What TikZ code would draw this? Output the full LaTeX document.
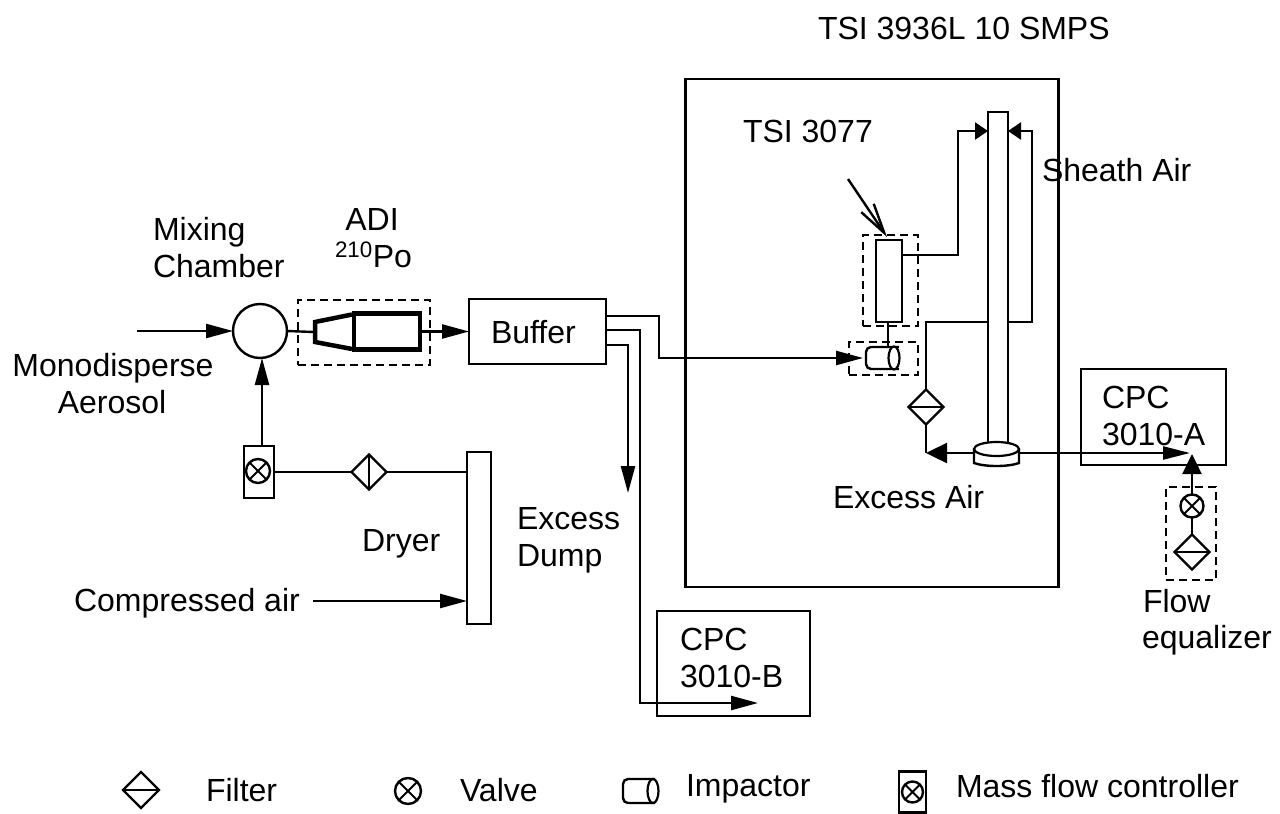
\documentclass[tikz,border=0pt]{standalone}
\usepackage{fontspec}
\setmainfont{Liberation Sans}
\usetikzlibrary{shapes.geometric,arrows.meta,calc}
\tikzset{
  pipe/.style={line width=2.4pt,line join=miter},
  flow/.style={pipe,-{Triangle[length=27pt,width=14pt]},shorten >=0pt},
  box/.style={draw,line width=2.4pt,inner sep=0pt,outer sep=0pt},
  heavy/.style={draw,line width=4.5pt,line join=miter},
  dashbox/.style={draw,line width=2.2pt,dash pattern=on 8pt off 5pt},
  filterh/.style={draw,diamond,aspect=1,line width=2.4pt,minimum size=35pt,inner sep=0pt,outer sep=0pt,
    path picture={\draw[line width=1.8pt] (path picture bounding box.west)--(path picture bounding box.east);}},
  filterv/.style={draw,diamond,aspect=1,line width=2.4pt,minimum size=35pt,inner sep=0pt,outer sep=0pt,
    path picture={\draw[line width=1.8pt] (path picture bounding box.north)--(path picture bounding box.south);}},
  valve/.style={draw,circle,line width=2.4pt,minimum size=23pt,inner sep=0pt,outer sep=0pt,
    path picture={\draw[line width=2pt] (path picture bounding box.north west)--(path picture bounding box.south east)
      (path picture bounding box.north east)--(path picture bounding box.south west);}},
  lab/.style={inner sep=0pt,outer sep=0pt,anchor=base west,font=\fontsize{32}{38}\selectfont},
  labc/.style={inner sep=0pt,outer sep=0pt,anchor=base,font=\fontsize{32}{38}\selectfont},
}
\begin{document}
\begin{tikzpicture}[x=1pt,y=-1pt]
\useasboundingbox[fill=white] (0,0) rectangle (1280,814);

% main boxes
\node[box,minimum width=373pt,minimum height=508pt] (smps) at (872,333) {};
\node[box,minimum width=137pt,minimum height=65pt] (buffer) at (537.5,331.5) {};
\node[box,minimum width=24pt,minimum height=172pt] (dryer) at (479,538) {};
\node[box,minimum width=145pt,minimum height=96pt] (cpca) at (1153.5,417) {};
\node[box,minimum width=153pt,minimum height=105pt] (cpcb) at (733.5,663.5) {};
\node[draw,circle,line width=2.4pt,minimum size=54pt,inner sep=0pt,outer sep=0pt] (mix) at (260,331) {};
\node[box,minimum width=30pt,minimum height=52pt] (mfc) at (259,472) {};
\node[valve,minimum size=24pt] (mfcv) at (258,471) {};
\node[filterv] (f1) at (369,472) {};

% ADI
\node[dashbox,minimum width=132pt,minimum height=65pt,inner sep=0pt] (adibox) at (364,332.5) {};
\node[heavy,minimum width=66pt,minimum height=36pt,inner sep=0pt,outer sep=0pt] (adi) at (387,331.5) {};
\draw[line width=4.5pt,line join=miter] (352,314.5) -- (315,322) -- (315,342) -- (352,349);
\coordinate (conein) at (314,332);
\draw[pipe] (mix.east) -- (conein);
\draw[flow] (adi.east) -- (adi.east -| buffer.west);

% DMA column
\node[box,minimum width=20pt,minimum height=331pt] (dma) at (998,277.5) {};
\node[box,minimum width=26pt,minimum height=82pt] (cond) at (889,281) {};
\node[dashbox,minimum width=55pt,minimum height=91pt,inner sep=0pt] (condbox) at (890.5,280.5) {};
\node[dashbox,minimum width=69pt,minimum height=33pt,inner sep=0pt] (impbox) at (883.5,358.5) {};
% impactor
\draw[box,fill=white,rounded corners=5pt] (899,347) -- (866,347) -- (866,369) -- (899,369);
\node[draw,ellipse,line width=2.2pt,minimum width=11pt,minimum height=23pt,inner sep=0pt,outer sep=0pt,fill=white] (imp) at (894,358) {};
\coordinate (imptop) at (888,347);
\coordinate (impin) at (865,358);
% DMA base
\draw[box,fill=white] (974,449) -- (974,463) .. controls (985,467) and (1008,467) .. (1019,463) -- (1019,449);
\node[draw,ellipse,line width=2.2pt,minimum width=45pt,minimum height=14pt,inner sep=0pt,outer sep=0pt,fill=white] (base) at (996.5,449) {};
\coordinate (baseL) at (974,453);
\coordinate (baseR) at (1019,453);

% filters and valves
\node[filterh] (f2) at (926,407) {};
\node[dashbox,minimum width=50pt,minimum height=93pt,inner sep=0pt] (eqbox) at (1191,533.5) {};
\node[valve] (v3) at (1192,506) {};
\node[filterh] (f3) at (1192,552) {};

% connectors
\coordinate (inlet) at (137,331);
\draw[flow] (inlet) -- (mix.west);
\coordinate (mfctop) at (262,446);
\draw[flow] (mfctop) -- (262,358);
\draw[pipe] (mfc.east) -- (f1.west);
\draw[pipe] (f1.east) -- (f1.east -| dryer.west);
\coordinate (comp) at (313,601);
\draw[flow] (comp) -- (comp -| dryer.west);

\coordinate (b1) at ($(buffer.north east)+(0,17)$);
\coordinate (b2) at ($(buffer.north east)+(0,31)$);
\coordinate (b3) at ($(buffer.north east)+(0,46)$);
\draw[flow] (b1) -- (659,316) -- (659,358) -- ($(impin)+(-2,0)$);
\draw[flow] (b3) -- (628,345) -- (628,493);
\coordinate (cpcbtip) at (758,703);
\draw[flow] (b2) -- (640,330) -- (640,703) -- (cpcbtip);

\draw[pipe] (cond.south -| imptop) -- (imptop);
\coordinate (tsiin) at (848,179);
\draw[pipe,-{Straight Barb[length=30pt,width=15pt]}] (tsiin) -- (887,237);
\draw[flow,-{Triangle[length=13pt,width=17pt]}] (cond.east |- 0,255) -- (958,255) -- (958,131) -- (dma.west |- 0,131);
\coordinate (sh) at (1032,322);
\draw[flow,-{Triangle[length=13pt,width=17pt]}] (dma.east |- sh) -- (sh) -- (1032,131) -- (dma.east |- 0,131);
\draw[pipe] (dma.west |- sh) -- (926,322) -- (f2.north);
\coordinate (exc) at (926,453);
\draw[pipe] (f2.south) -- (exc);
\draw[pipe,-{Triangle[length=21pt,width=20pt]}] (baseL) -- (exc);
\coordinate (tipa) at (1190,453);
\draw[pipe,-{Triangle[length=27pt,width=13pt]}] (baseR) -- (tipa);
\draw[pipe,-{Triangle[length=20pt,width=19pt]}] (v3.north) -- (1192,454);
\draw[pipe] (v3.south) -- (f3.north);

% labels
\node[lab] (t1) at (818,39) {TSI 3936L 10 SMPS};
\node[lab] (t2) at (743,142) {TSI 3077};
\node[lab] (t3) at (1042,181) {Sheath Air};
\node[lab] (t4) at (153,240) {Mixing};
\node[lab] (t5) at (153,277) {Chamber};
\node[labc] (t6) at (372,230) {ADI};
\node[lab] (t7) at (335,267) {\textsuperscript{210}Po};
\node[labc] (t8) at (113,376) {Monodisperse};
\node[labc] (t9) at (112,413) {Aerosol};
\node[lab] (t10) at (491,343) {Buffer};
\node[lab] (t11) at (517,529) {Excess};
\node[lab] (t12) at (517,566) {Dump};
\node[lab] (t13) at (362,551) {Dryer};
\node[lab] (t14) at (74,611) {Compressed air};
\node[lab] (t15) at (833,508) {Excess Air};
\node[lab] (t16) at (1102,408) {CPC};
\node[lab] (t17) at (1102,445) {3010-A};
\node[lab] (t18) at (680,650) {CPC};
\node[lab] (t19) at (680,687) {3010-B};
\node[lab] (t20) at (1143,612) {Flow};
\node[lab] (t21) at (1142,648) {equalizer};

% legend
\node[filterh,minimum size=36pt] (lf) at (141,790) {};
\node[lab] (l1) at (206,801) {Filter};
\node[valve,minimum size=26pt] (lv) at (408,791) {};
\node[lab] (l2) at (460,801) {Valve};
\draw[box,rounded corners=5pt] (655,779) -- (623,779) -- (623,803) -- (655,803);
\node[draw,ellipse,line width=2.2pt,minimum width=11pt,minimum height=24pt,inner sep=0pt,outer sep=0pt,fill=white] (li) at (653,791) {};
\node[lab] (l3) at (686,796) {Impactor};
\node[box,minimum width=27pt,minimum height=41pt] (lm) at (912.5,792) {};
\node[valve,minimum size=21pt] (lmv) at (912.5,792) {};
\node[lab] (l4) at (956,797) {Mass flow controller};
\end{tikzpicture}
\end{document}
